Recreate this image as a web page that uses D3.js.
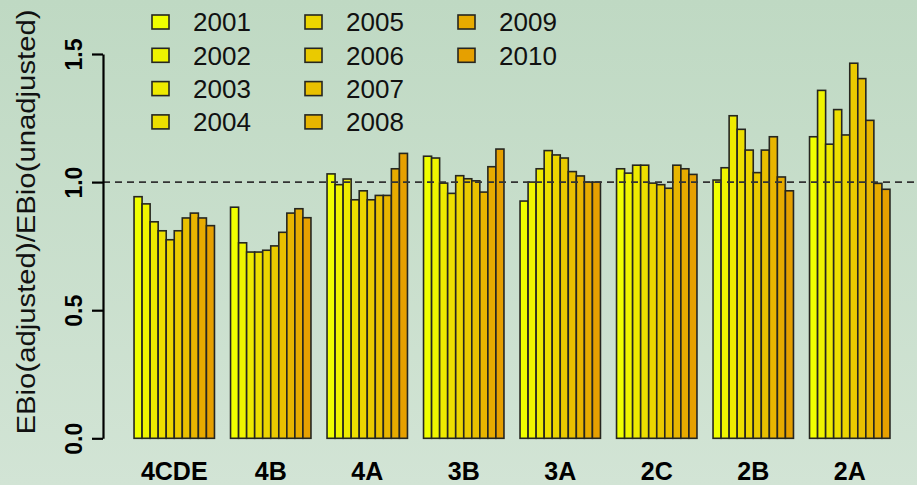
<!DOCTYPE html>
<html>
<head>
<meta charset="utf-8">
<script src="https://cdn.jsdelivr.net/npm/d3@7"></script>
<style>
    body { margin: 0; }
    svg text { font-family: "Liberation Sans", Arial, sans-serif; }
</style>
</head>
<body>
<div id="chart"></div>
<script>
var years = ["2001", "2002", "2003", "2004", "2005", "2006", "2007", "2008", "2009", "2010"];
var regions = ["4CDE", "4B", "4A", "3B", "3A", "2C", "2B", "2A"];

// EBio(adjusted)/EBio(unadjusted), one value per year, per region
var r4CDE = [0.943, 0.915, 0.845, 0.810, 0.775, 0.810, 0.860, 0.879, 0.860, 0.830];
var r4B   = [0.902, 0.763, 0.727, 0.727, 0.734, 0.751, 0.804, 0.879, 0.896, 0.861];
var r4A   = [1.032, 0.990, 1.012, 0.931, 0.966, 0.931, 0.948, 0.948, 1.052, 1.112];
var r3B   = [1.101, 1.094, 0.996, 0.956, 1.025, 1.013, 1.005, 0.961, 1.060, 1.129];
var r3A   = [0.926, 1.000, 1.052, 1.123, 1.106, 1.094, 1.041, 1.024, 1.000, 1.000];
var r2C   = [1.052, 1.035, 1.066, 1.066, 0.996, 0.990, 0.976, 1.066, 1.052, 1.030];
var r2B   = [1.008, 1.056, 1.259, 1.206, 1.125, 1.037, 1.125, 1.177, 1.020, 0.966];
var r2A   = [1.177, 1.358, 1.148, 1.283, 1.184, 1.464, 1.404, 1.241, 0.995, 0.972];
var ratios = [r4CDE, r4B, r4A, r3B, r3A, r2C, r2B, r2A];

var yTicks = [0, 0.5, 1, 1.5];

var width = 917,
    height = 485;

var svg = d3.select("#chart").append("svg")
    .attr("width", width)
    .attr("height", height);

var defs = svg.append("defs");
var grad = defs.append("linearGradient")
    .attr("id", "bg")
    .attr("x1", 0).attr("y1", 0).attr("x2", 0).attr("y2", 1);
grad.append("stop").attr("offset", "0%").attr("stop-color", "#bfd9c3");
grad.append("stop").attr("offset", "100%").attr("stop-color", "#d2e4d5");

svg.append("rect")
    .attr("width", width)
    .attr("height", height)
    .attr("fill", "url(#bg)");

var x0 = d3.scaleBand()
    .domain(regions)
    .range([126, 898])
    .paddingInner(2 / 12)
    .paddingOuter(1 / 12);

var x1 = d3.scaleBand()
    .domain(years)
    .range([0, x0.bandwidth()]);

var y = d3.scaleLinear()
    .domain([0, 1.5])
    .range([438.3, 54]);

var color = d3.scaleOrdinal()
    .domain(years)
    .range(years.map(function (d, i) {
        return d3.interpolateRgb("#f0ff00", "#e6a000")(i / (years.length - 1));
    }));

// bars
var groups = svg.selectAll(".region")
    .data(regions)
    .enter().append("g")
    .attr("class", "region")
    .attr("transform", function (d) { return "translate(" + x0(d) + ",0)"; });

groups.selectAll("rect")
    .data(function (d, i) {
        return years.map(function (yr, j) { return { year: yr, value: ratios[i][j] }; });
    })
    .enter().append("rect")
    .attr("x", function (d) { return x1(d.year); })
    .attr("y", function (d) { return y(d.value); })
    .attr("width", x1.bandwidth())
    .attr("height", function (d) { return y(0) - y(d.value); })
    .attr("fill", function (d) { return color(d.year); })
    .attr("stroke", "#262620")
    .attr("stroke-width", 1.6);

// reference line at 1
svg.append("line")
    .attr("x1", 103)
    .attr("x2", 917)
    .attr("y1", y(1))
    .attr("y2", y(1))
    .attr("stroke", "#333")
    .attr("stroke-width", 1.7)
    .attr("stroke-dasharray", "7,5");

// y axis
var yAxis = svg.append("g")
    .attr("transform", "translate(103,0)")
    .call(d3.axisLeft(y).tickValues(yTicks).tickFormat(d3.format(".1f")).tickSize(11).tickSizeOuter(0));

yAxis.select(".domain").attr("stroke", "#000").attr("stroke-width", 2.2);
yAxis.selectAll(".tick line").attr("stroke", "#000").attr("stroke-width", 2.2);
yAxis.selectAll(".tick text")
    .attr("x", null).attr("dy", null)
    .attr("transform", "translate(-21,0) rotate(-90)")
    .attr("text-anchor", "middle")
    .attr("font-size", 23)
    .attr("font-weight", "bold")
    .attr("fill", "#000");

svg.append("text")
    .attr("transform", "translate(35,222) rotate(-90)")
    .attr("text-anchor", "middle")
    .attr("font-size", 25)
    .attr("fill", "#111")
    .attr("textLength", 425)
    .attr("lengthAdjust", "spacingAndGlyphs")
    .text("EBio(adjusted)/EBio(unadjusted)");

// x labels
svg.selectAll(".xlab")
    .data(regions)
    .enter().append("text")
    .attr("class", "xlab")
    .attr("x", function (d) { return x0(d) + x0.bandwidth() / 2; })
    .attr("y", 480)
    .attr("text-anchor", "middle")
    .attr("font-size", 25)
    .attr("font-weight", "bold")
    .attr("fill", "#000")
    .text(function (d) { return d; });

// legend
var legend = svg.selectAll(".legend")
    .data(years)
    .enter().append("g")
    .attr("class", "legend")
    .attr("transform", function (d, i) {
        return "translate(" + (152 + Math.floor(i / 4) * 153) + "," + (22 + (i % 4) * 33.3) + ")";
    });

legend.append("rect")
    .attr("x", 0)
    .attr("y", -7)
    .attr("width", 17)
    .attr("height", 14)
    .attr("fill", function (d) { return color(d); })
    .attr("stroke", "#262620")
    .attr("stroke-width", 1.6);

legend.append("text")
    .attr("x", 41)
    .attr("y", 0)
    .attr("dy", "0.36em")
    .attr("font-size", 26)
    .attr("fill", "#111")
    .text(function (d) { return d; });
</script>
</body>
</html>
